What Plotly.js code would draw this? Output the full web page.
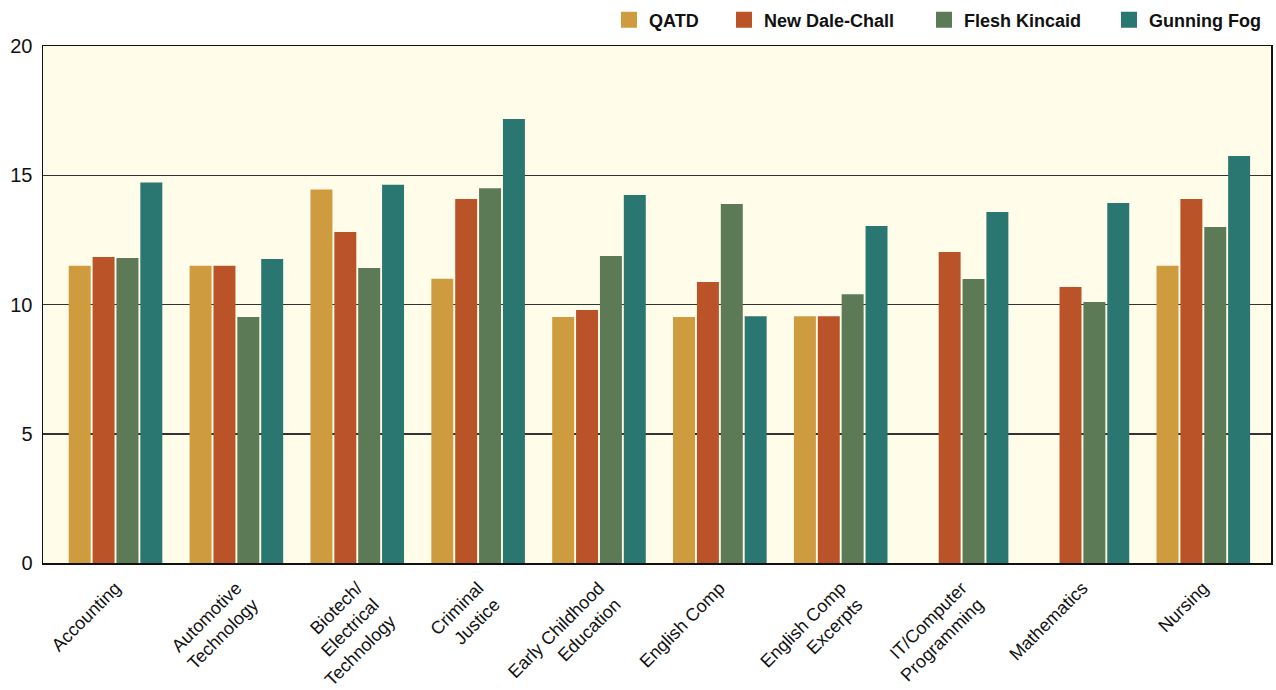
<!DOCTYPE html>
<html><head><meta charset="utf-8">
<script src="https://cdn.plot.ly/plotly-3.0.1.min.js"></script>
<style>html,body{margin:0;padding:0;background:#fff;}#chart{width:1276px;height:690px;}</style>
</head><body><div id="chart"></div>
<script>
const categories = ["Accounting","Automotive<br>Technology","Biotech/<br>Electrical<br>Technology","Criminal<br>Justice","Early Childhood<br>Education","English Comp","English Comp<br>Excerpts","IT/Computer<br>Programming","Mathematics","Nursing"];
const qatd = [11.5, 11.5, 14.45, 11.0, 9.52, 9.52, 9.55, null, null, 11.5];
const newDaleChall = [11.84, 11.5, 12.8, 14.08, 9.79, 10.87, 9.55, 12.03, 10.68, 14.08];
const fleshKincaid = [11.8, 9.52, 11.41, 14.5, 11.88, 13.89, 10.4, 10.99, 10.1, 13.0];
const gunningFog = [14.72, 11.76, 14.63, 17.18, 14.24, 9.55, 13.04, 13.58, 13.93, 15.74];
const seriesNames = ["QATD","New Dale-Chall","Flesh Kincaid","Gunning Fog"];
const colors = ["#CF9B3F","#BA5428","#5C7A56","#2A7670"];
const values = [qatd, newDaleChall, fleshKincaid, gunningFog];
const legendIds = ["legend","legend2","legend3","legend4"];
const legendLeft = [609, 724, 924, 1109];

const traces = values.map((v,i)=>({
  type:"bar", x:categories, y:v, name:seriesNames[i], legendgroup:seriesNames[i],
  marker:{color:colors[i]}, showlegend:false
}));
seriesNames.forEach((n,i)=>traces.push({
  type:"scatter", mode:"markers", x:[null], y:[null], name:n, legendgroup:n, legend:legendIds[i],
  marker:{symbol:"square", size:20, color:colors[i]}, showlegend:true
}));

const layout = {
  width:1276, height:690,
  margin:{l:43, r:5, t:46, b:127},
  paper_bgcolor:"#ffffff",
  plot_bgcolor:"#FFFDEA",
  barmode:"group", bargap:0.21, bargroupgap:0.08,
  font:{family:"Liberation Sans, Arial, sans-serif", color:"#111"},
  showlegend:true,
  xaxis:{range:[-0.6, 9.56], tickangle:-45, tickfont:{size:18, color:"#111"}, showline:true, linecolor:"#111", linewidth:1.5, mirror:true, ticks:"", showgrid:false, automargin:false, ticklabelstandoff:6},
  yaxis:{range:[0,20], tickvals:[0,5,10,15,20], tickfont:{size:20, color:"#111"}, showline:true, linecolor:"#111", linewidth:1.5, mirror:true, showgrid:true, gridcolor:"#333", gridwidth:1.5, zeroline:false, ticks:"", ticklen:0, automargin:false, ticklabelstandoff:5}
};
legendIds.forEach((id,i)=>{
  layout[id] = {orientation:"h", xref:"container", yref:"container", x:legendLeft[i]/1276, xanchor:"left", y:0.971, yanchor:"middle",
    font:{family:"Liberation Sans Narrow, Liberation Sans, sans-serif", size:18, weight:"bold", color:"#111"},
    itemsizing:"trace", itemwidth:30, bgcolor:"rgba(0,0,0,0)"};
});
Plotly.newPlot("chart", traces, layout, {displayModeBar:false, staticPlot:true});
</script></body></html>
